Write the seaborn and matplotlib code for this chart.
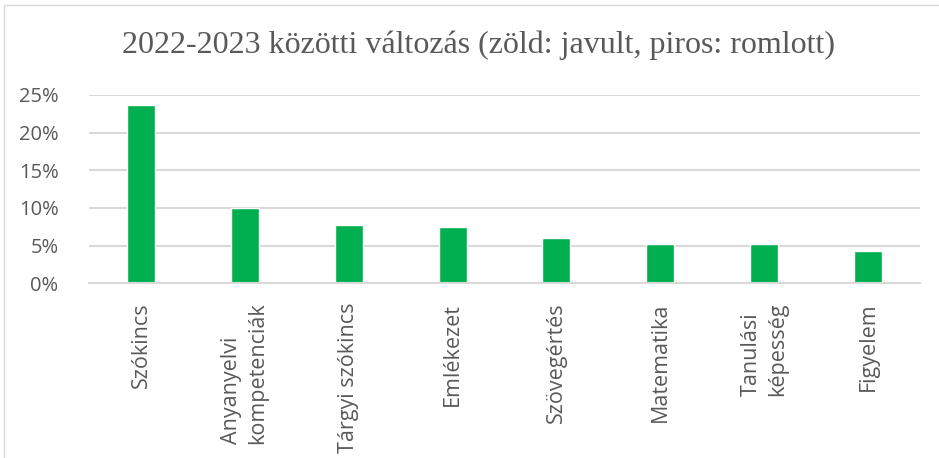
import matplotlib.pyplot as plt
import matplotlib.patches as patches
import seaborn as sns
import pandas as pd
from matplotlib.ticker import FuncFormatter

# Change between 2022 and 2023, in percent
categories = ['Szókincs', 'Anyanyelvi\nkompetenciák', 'Tárgyi szókincs', 'Emlékezet',
              'Szövegértés', 'Matematika', 'Tanulási\nképesség', 'Figyelem']
change_pct = [23.7, 10.0, 7.7, 7.5, 6.0, 5.2, 5.2, 4.3]
y_ticks = [0, 5, 10, 15, 20, 25]

df = pd.DataFrame({'Terület': categories, 'Változás': change_pct})

sns.set_theme(style='white')
plt.rcParams['font.family'] = ['Open Sans', 'DejaVu Sans']

fig = plt.figure(figsize=(9.39, 4.58), dpi=100)
ax = fig.add_axes([89 / 939, 1 - 283.3 / 458, (920 - 89) / 939, (283.3 - 95) / 458])

sns.barplot(data=df, x='Terület', y='Változás', color='#00B050', saturation=1,
            width=0.27, ax=ax)

ax.set_ylim(0, 25)
ax.set_yticks(y_ticks)
ax.yaxis.set_major_formatter(FuncFormatter(lambda v, p: f'{v:.0f}%'))
ax.grid(axis='y', color='#D9D9D9', linewidth=1.5)
ax.set_axisbelow(True)
for s in ['top', 'right', 'left']:
    ax.spines[s].set_visible(False)
ax.spines['bottom'].set_color('#D9D9D9')
ax.spines['bottom'].set_linewidth(1.5)
ax.set_xlabel('')
ax.set_ylabel('')
ax.tick_params(axis='y', length=0, pad=22, labelsize=14.5, labelcolor='#595959')
ax.tick_params(axis='x', length=0, pad=14, labelsize=15.5, labelcolor='#595959')
plt.setp(ax.get_xticklabels(), rotation=90, va='top', ha='center',
         multialignment='left', linespacing=1.35)

fig.text(478 / 939, 1 - 45 / 458, '2022-2023 közötti változás (zöld: javult, piros: romlott)',
         family='Liberation Serif', fontsize=23, color='#595959', ha='center', va='center')

# thin frame around the chart area
fig.patches.append(patches.Rectangle((4 / 939, -0.05), 1.1, 1 - 5 / 458 + 0.05,
                                     transform=fig.transFigure, fill=False,
                                     edgecolor='#D9D9D9', linewidth=1))

fig.savefig('out.png', dpi=100)
